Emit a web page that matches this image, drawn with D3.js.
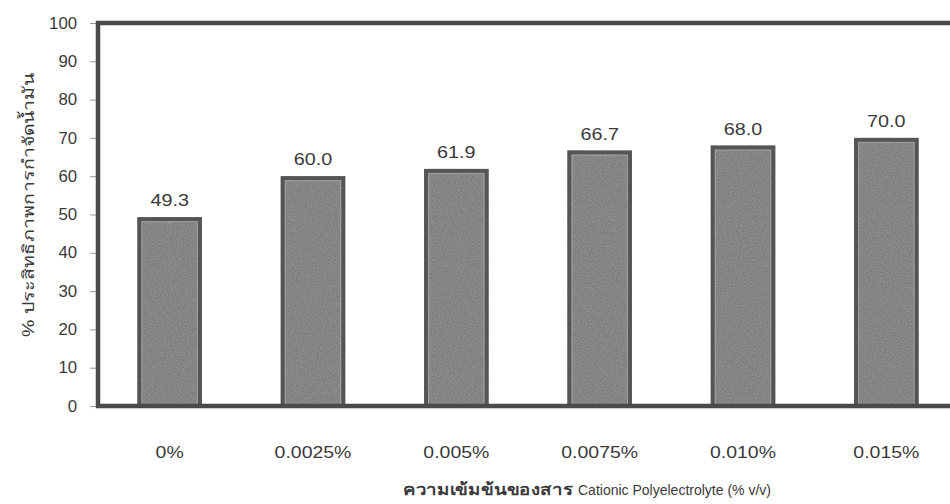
<!DOCTYPE html>
<html>
<head>
<meta charset="utf-8">
<script src="https://cdn.jsdelivr.net/npm/d3@7"></script>
<style>
  html, body { margin: 0; padding: 0; background: #fff; }
  svg text { font-family: "Liberation Sans", Arial, "Noto Sans", "DejaVu Sans", sans-serif; fill: #3a3a3a; }
</style>
</head>
<body>
<svg id="chart" width="950" height="504"></svg>
<script>
// Oil removal efficiency vs. cationic polyelectrolyte dose
const categories = ["0%", "0.0025%", "0.005%", "0.0075%", "0.010%", "0.015%"];
const removal = [49.3, 60.0, 61.9, 66.7, 68.0, 70.0];
const yTicks = [0, 10, 20, 30, 40, 50, 60, 70, 80, 90, 100];

const svg = d3.select("#chart");
const plotLeft = 98, plotRight = 958, plotTop = 23, plotBottom = 406;

const x = d3.scaleBand().domain(categories).range([plotLeft, plotRight]).paddingInner(0.55).paddingOuter(0.275);
const y = d3.scaleLinear().domain([0, 100]).range([plotBottom, plotTop]);

// grainy fill for the bars
const defs = svg.append("defs");
const f = defs.append("filter").attr("id", "grain").attr("x", 0).attr("y", 0).attr("width", 1).attr("height", 1);
f.append("feTurbulence").attr("type", "fractalNoise").attr("baseFrequency", 0.8).attr("numOctaves", 2).attr("seed", 3).attr("result", "noise");
f.append("feColorMatrix").attr("in", "noise").attr("type", "matrix")
  .attr("values", "0 0 0 0 0  0 0 0 0 0  0 0 0 0 0  0 0 0 0.6 -0.12").attr("result", "dots");
f.append("feComposite").attr("in", "dots").attr("in2", "SourceGraphic").attr("operator", "in").attr("result", "dotsIn");
f.append("feMerge").call(m => { m.append("feMergeNode").attr("in", "SourceGraphic"); m.append("feMergeNode").attr("in", "dotsIn"); });

// y axis (labels set a touch wide)
const yAxis = svg.append("g").attr("transform", `translate(${plotLeft - 2},0)`)
  .call(d3.axisLeft(y).tickValues(yTicks).tickSize(6).tickPadding(12));
yAxis.select(".domain").remove();
yAxis.selectAll("line").attr("stroke", "#999");
yAxis.selectAll("text").style("font-size", "16px").attr("fill", "#3a3a3a")
  .attr("transform", "scale(1.05,1)");

// bars
const bars = svg.append("g").selectAll("g").data(removal).join("g");
bars.append("rect")
  .attr("x", (d, i) => x(categories[i]))
  .attr("y", d => y(d))
  .attr("width", x.bandwidth())
  .attr("height", d => y(0) - y(d))
  .attr("fill", "#939393")
  .attr("filter", "url(#grain)");
bars.append("rect")
  .attr("x", (d, i) => x(categories[i]) + 2)
  .attr("y", d => y(d) + 2)
  .attr("width", x.bandwidth() - 4)
  .attr("height", d => y(0) - y(d) - 2)
  .attr("fill", "none")
  .attr("stroke", "#555")
  .attr("stroke-width", 4);
bars.append("rect")
  .attr("x", (d, i) => x(categories[i]) + 4.5)
  .attr("y", d => y(d) + 4.5)
  .attr("width", x.bandwidth() - 9)
  .attr("height", d => y(0) - y(d) - 6)
  .attr("fill", "none")
  .attr("stroke", "#b8b8b8")
  .attr("stroke-opacity", 0.6)
  .attr("stroke-width", 1);

// value labels
const labelScale = 1.2;
bars.append("text")
  .attr("transform", (d, i) => `translate(${x(categories[i]) + x.bandwidth() / 2},${y(d) - 11}) scale(${labelScale},1)`)
  .attr("text-anchor", "middle")
  .style("font-size", "16.5px")
  .text(d => d.toFixed(1));

// frame
svg.append("path")
  .attr("d", `M${plotRight},${plotTop} H${plotLeft} V${plotBottom} H${plotRight}`)
  .attr("fill", "none").attr("stroke", "#4a4a4a").attr("stroke-width", 4.5);

// x axis labels
const xAxis = svg.append("g").attr("transform", `translate(0,${plotBottom})`)
  .call(d3.axisBottom(x).tickSize(0).tickPadding(40));
xAxis.select(".domain").remove();
xAxis.selectAll("text").style("font-size", "16.5px").attr("fill", "#3a3a3a")
  .attr("transform", "scale(1.18,1)");

// axis titles
svg.append("text")
  .attr("x", 403).attr("y", 495)
  .attr("textLength", 170).attr("lengthAdjust", "spacingAndGlyphs")
  .style("font-size", "16px").style("font-weight", "600").attr("fill", "#2e2e2e")
  .text("ความเข้มข้นของสาร");
svg.append("text")
  .attr("x", 578).attr("y", 495)
  .style("font-size", "15px")
  .attr("textLength", 193).attr("lengthAdjust", "spacingAndGlyphs")
  .text("Cationic Polyelectrolyte (% v/v)");

svg.append("text")
  .attr("transform", "translate(34,205) rotate(-90)")
  .attr("text-anchor", "middle")
  .attr("textLength", 264).attr("lengthAdjust", "spacingAndGlyphs")
  .style("font-size", "16px").attr("fill", "#2e2e2e")
  .text("% ประสิทธิภาพการกำจัดน้ำมัน");
</script>
</body>
</html>
